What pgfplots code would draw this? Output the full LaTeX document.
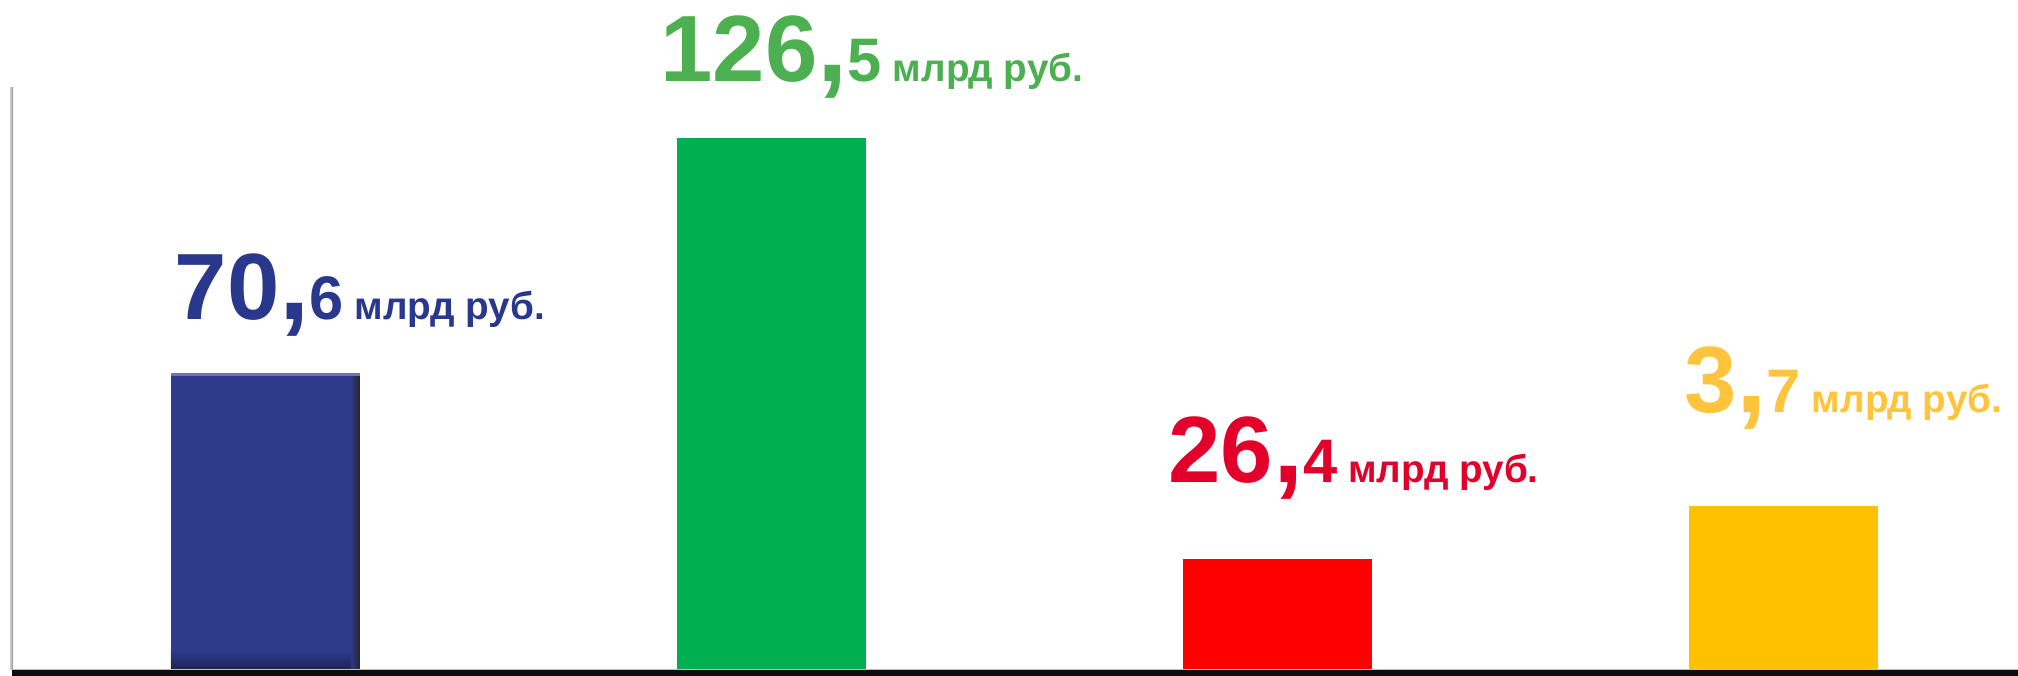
\documentclass[border=0pt]{standalone}
\usepackage{pgfplots}
\pgfplotsset{compat=1.18}
\usepackage{fontspec}
\setmainfont{Liberation Sans}
\definecolor{barblue}{HTML}{2E3A8C}
\definecolor{bargreen}{HTML}{00B050}
\definecolor{barred}{HTML}{FF0000}
\definecolor{baryellow}{HTML}{FFC000}
\definecolor{txtblue}{HTML}{29388C}
\definecolor{txtgreen}{HTML}{4CAF50}
\definecolor{txtred}{HTML}{E2002B}
\definecolor{txtyellow}{HTML}{FFC43C}
\newcommand{\vlabel}[3]{{\bfseries\fontsize{26.8}{30}\selectfont #1{\fontsize{31}{30}\selectfont,}\fontsize{17.5}{20}\selectfont #2\fontsize{11}{13}\selectfont\ #3}}
\begin{document}
\begin{tikzpicture}
\begin{axis}[
  scale only axis,
  width=20.18cm, height=6.76cm,
  xmin=-0.5247, xmax=3.4634,
  ymin=-1.427, ymax=159.32,
  hide axis,
  clip=false,
  ybar, bar width=1.89cm,
  bar shift=0pt,
]
% bar heights as drawn (the yellow bar is drawn taller than its label 3,7)
\addplot[fill=barblue, draw=none] coordinates {(0,70.6)};
\addplot[fill=bargreen, draw=none] coordinates {(1,126.5)};
\addplot[fill=barred, draw=none] coordinates {(2,26.4)};
\addplot[fill=baryellow, draw=none] coordinates {(3,39.0)};
% bevel hints on blue bar
\fill[left color=barblue, right color=black!85] (axis cs:0.168,0) rectangle (axis cs:0.1868,70.6);
\fill[barblue!70!white] (axis cs:-0.1868,70.0) rectangle (axis cs:0.1868,70.6);
\fill[top color=barblue, bottom color=barblue!60!black] (axis cs:-0.1868,0) rectangle (axis cs:0.168,4.5);
% axes lines
\fill[black!95] (axis cs:-0.5,0) rectangle (axis cs:3.4634,-1.427);
\draw[gray!50, line width=0.1mm] (axis cs:-0.5,0.1) -- (axis cs:3.4634,0.1);
\fill[left color=gray!40, right color=gray!80] (axis cs:-0.5050,0) rectangle (axis cs:-0.4990,138.6);
% value labels
\node[anchor=base west, inner sep=0, text=txtblue] at (axis cs:-0.1808,83.22) {\vlabel{70}{6}{млрд руб.}};
\node[anchor=base west, inner sep=0, text=txtgreen] at (axis cs:0.7796,139.82) {\vlabel{126}{5}{млрд руб.}};
\node[anchor=base west, inner sep=0, text=txtred] at (axis cs:1.7836,44.47) {\vlabel{26}{4}{млрд руб.}};
\node[anchor=base west, inner sep=0, text=txtyellow] at (axis cs:2.8034,61.11) {\vlabel{3}{7}{млрд руб.}};
\end{axis}
\path (current axis.south west) rectangle (current axis.north east);
\end{tikzpicture}
\end{document}
